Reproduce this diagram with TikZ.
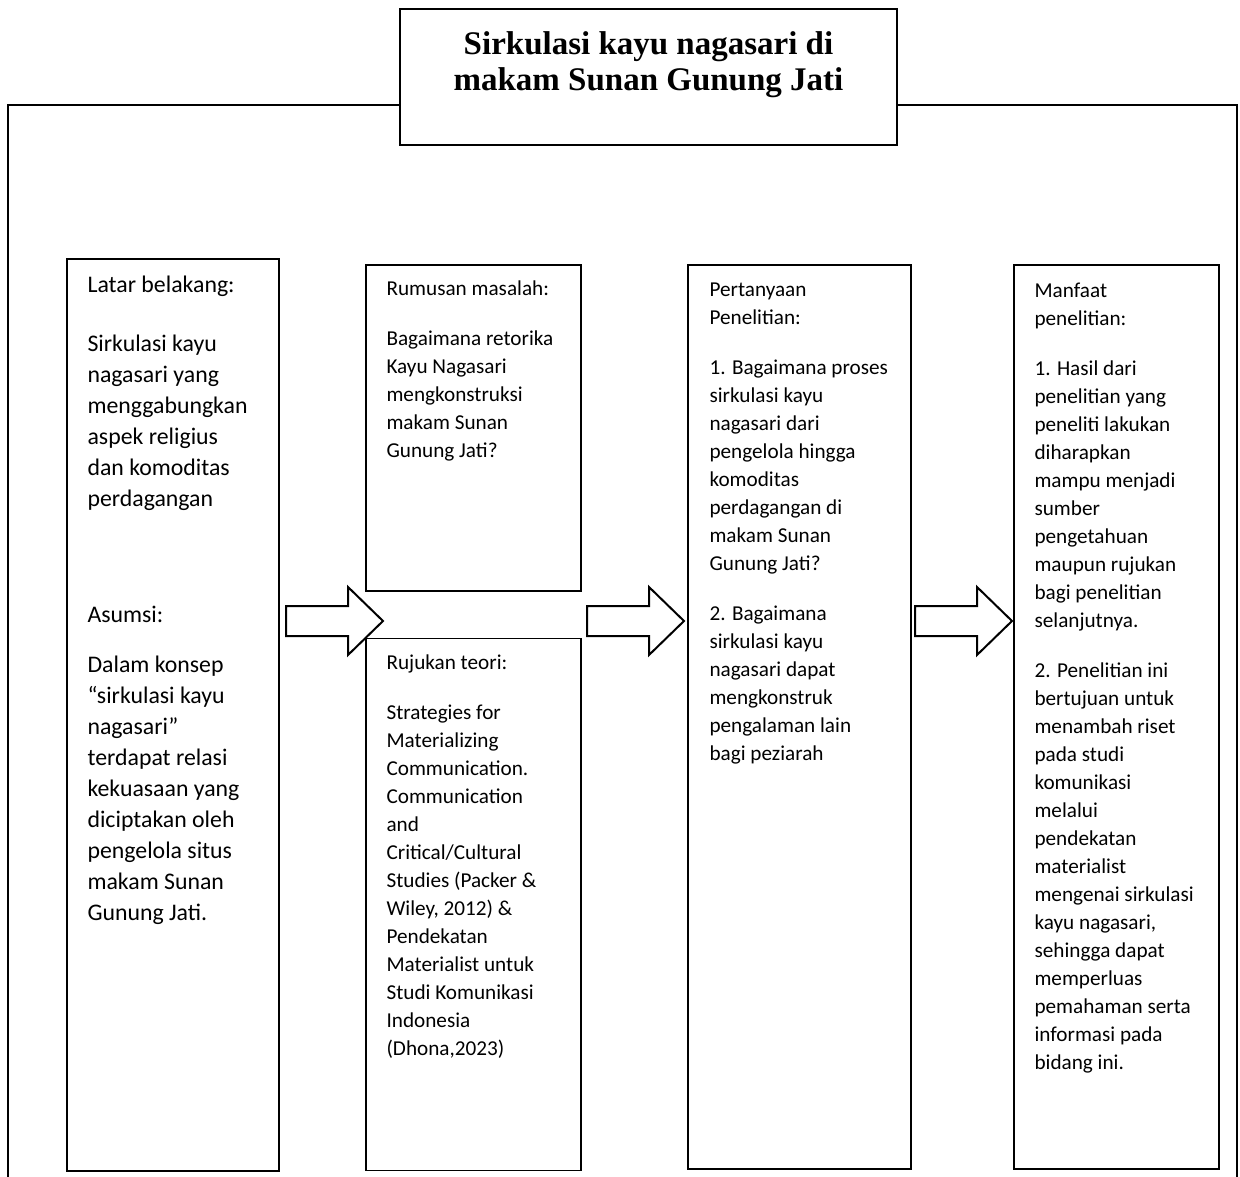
\documentclass[tikz,border=0pt]{standalone}
\usepackage{fontspec}
\setmainfont{Carlito}
\newfontfamily\titlefont{Liberation Serif}
\usetikzlibrary{positioning}

\tikzset{
  panel/.style={draw,line width=1.3pt,inner sep=0pt},
  bodytext/.style={align=left,inner sep=0pt,font=\fontsize{21.2}{28}\selectfont},
  bigtext/.style={align=left,inner sep=0pt,font=\fontsize{23.8}{31}\selectfont},
  headtext/.style={align=center,inner sep=0pt,font=\titlefont\bfseries\fontsize{33}{36}\selectfont},
  frame/.style={line width=2pt},
  pics/flowarrow/.style={code={
    \draw[line width=2pt,fill=white] (0,-15) -- (62,-15) -- (62,-34) -- (97,0)
      -- (62,34) -- (62,15) -- (0,15) -- cycle;}}
}

\begin{document}
\begin{tikzpicture}[x=1pt,y=-1pt]
  \useasboundingbox (0,0) rectangle (1240,1177);

  % title and outer frame
  \node[panel,line width=1.5pt,minimum width=497pt,minimum height=136pt] (title) at (648.5,77) {};
  \node[headtext,below=23pt of title.north] (titletext) {Sirkulasi kayu nagasari di\\makam Sunan Gunung Jati};
  \coordinate (topy) at (0,105);
  \coordinate (fl) at (8,1177);
  \coordinate (fr) at (1237,1177);
  \draw[frame] (fl) |- (title.west |- topy);
  \draw[frame] (fr) |- (title.east |- topy);

  % panels
  \node[panel,minimum width=212pt,minimum height=912pt] (latar) at (173,715) {};
  \node[panel,minimum width=215pt,minimum height=326pt] (rumusan) at (473.5,428) {};
  \node[panel,minimum width=215pt,minimum height=532pt,below=46pt of rumusan] (rujukan) {};
  \node[panel,minimum width=223pt,minimum height=904pt] (pertanyaan) at (799.5,717) {};
  \node[panel,minimum width=205pt,minimum height=904pt] (manfaat) at (1116.5,717) {};

  % texts
  \node[bigtext,below right=17pt and 21pt of latar.north west] (latartext) {Latar belakang:\\[28pt]
    Sirkulasi kayu\\nagasari yang\\menggabungkan\\aspek religius\\dan komoditas\\perdagangan\\[85pt]
    Asumsi:\\[19pt]
    Dalam konsep\\“sirkulasi kayu\\nagasari”\\terdapat relasi\\kekuasaan yang\\diciptakan oleh\\pengelola situs\\makam Sunan\\Gunung Jati.};
  \node[bodytext,below right=16pt and 21pt of rumusan.north west] (rumusantext) {Rumusan masalah:\\[22pt]
    Bagaimana retorika\\Kayu Nagasari\\mengkonstruksi\\makam Sunan\\Gunung Jati?};
  \node[bodytext,below right=17pt and 21pt of rujukan.north west] (rujukantext) {Rujukan teori:\\[22pt]
    Strategies for\\Materializing\\Communication.\\Communication\\and\\Critical/Cultural\\Studies (Packer \&\\Wiley, 2012) \&\\Pendekatan\\Materialist untuk\\Studi Komunikasi\\Indonesia\\(Dhona,2023)};
  \node[bodytext,below right=18pt and 22pt of pertanyaan.north west] (pertanyaantext) {Pertanyaan\\Penelitian:\\[22pt]
    1. Bagaimana proses\\sirkulasi kayu\\nagasari dari\\pengelola hingga\\komoditas\\perdagangan di\\makam Sunan\\Gunung Jati?\\[22pt]
    2. Bagaimana\\sirkulasi kayu\\nagasari dapat\\mengkonstruk\\pengalaman lain\\bagi peziarah};
  \node[bodytext,below right=18pt and 21pt of manfaat.north west] (manfaattext) {Manfaat\\penelitian:\\[22pt]
    1. Hasil dari\\penelitian yang\\peneliti lakukan\\diharapkan\\mampu menjadi\\sumber\\pengetahuan\\maupun rujukan\\bagi penelitian\\selanjutnya.\\[22pt]
    2. Penelitian ini\\bertujuan untuk\\menambah riset\\pada studi\\komunikasi\\melalui\\pendekatan\\materialist\\mengenai sirkulasi\\kayu nagasari,\\sehingga dapat\\memperluas\\pemahaman serta\\informasi pada\\bidang ini.};

  % block arrows
  \pic (arrowA) at (286,621) {flowarrow};
  \pic (arrowB) at (587,621) {flowarrow};
  \pic (arrowC) at (915,621) {flowarrow};
\end{tikzpicture}
\end{document}
